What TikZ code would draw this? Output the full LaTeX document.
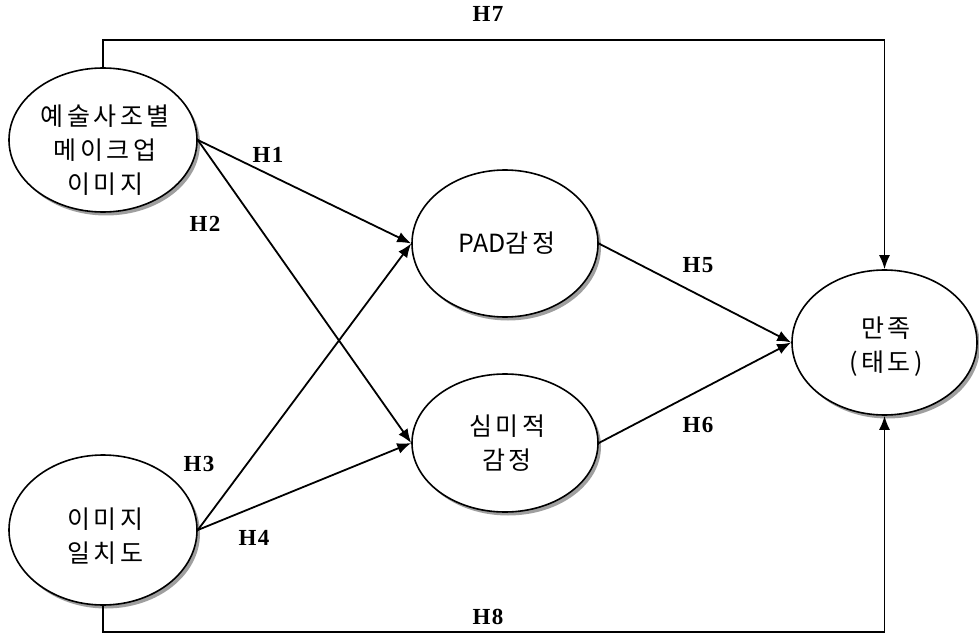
\documentclass[tikz,border=0pt]{standalone}
\usepackage{fontspec}
\setmainfont{Liberation Serif}
\newfontfamily\kr[LetterSpace=14]{Noto Sans CJK KR}
\newfontfamily\krplain{Noto Sans CJK KR}
\usetikzlibrary{arrows.meta,shapes.geometric,shadows}
\begin{document}
\begin{tikzpicture}[x=1pt,y=-1pt,
  construct/.style={ellipse, draw, line width=1.6pt, fill=white, inner sep=0pt,
    drop shadow={shadow xshift=3pt, shadow yshift=-3.5pt, fill=gray!75, opacity=1}},
  ctext/.style={align=center, inner sep=0pt, font=\kr\fontsize{25}{34}\selectfont},
  link/.style={line width=1.8pt, -{Latex[length=14pt,width=11pt]}},
  hlabel/.style={font=\bfseries\fontsize{23}{24}\selectfont, inner sep=0pt}]
\useasboundingbox (0,0) rectangle (979,636);
\node[construct, minimum width=188pt, minimum height=144pt] (art) at (103,140) {};
\node[construct, minimum width=188pt, minimum height=150pt] (fit) at (103,530) {};
\node[construct, minimum width=186pt, minimum height=147pt] (pad) at (505,243.5) {};
\node[construct, minimum width=186pt, minimum height=138pt] (aes) at (505,443) {};
\node[construct, minimum width=185pt, minimum height=145pt] (sat) at (884.5,342.5) {};
\node[ctext] (artt) at (105,150) {예술사조별\\메이크업\\이미지};
\node[ctext] (fitt) at (105,536) {이미지\\일치도};
\node[ctext] (padt) at (507,243) {{\krplain PAD}감정};
\node[ctext] (aest) at (507,443) {심미적\\감정};
\node[ctext] (satt) at (886,347) {만족\\(태도)};
\coordinate (t1) at (103,40);
\coordinate (t2) at (884.5,40);
\coordinate (b1) at (103,632);
\coordinate (b2) at (884.5,632);
\draw[link] (art.east) -- (pad.west);
\draw[link] (art.east) -- (aes.west);
\draw[link] (fit.east) -- (pad.west);
\draw[link] (fit.east) -- (aes.west);
\draw[link] (pad.east) -- (sat.west);
\draw[link] (aes.east) -- (sat.west);
\draw[link] (art.north) -- (t1) -- (t2) -- (sat.north);
\draw[link] (fit.south) -- (b1) -- (b2) -- (sat.south);
\node[hlabel] (h1) at (268,155) {H\kern1.5pt 1};
\node[hlabel] (h2) at (205,224) {H\kern1.5pt 2};
\node[hlabel] (h3) at (199,464) {H\kern1.5pt 3};
\node[hlabel] (h4) at (254,538) {H\kern1.5pt 4};
\node[hlabel] (h5) at (698,265) {H\kern1.5pt 5};
\node[hlabel] (h6) at (698,425) {H\kern1.5pt 6};
\node[hlabel] (h7) at (488,14) {H\kern1.5pt 7};
\node[hlabel] (h8) at (488,617) {H\kern1.5pt 8};
\end{tikzpicture}
\end{document}
